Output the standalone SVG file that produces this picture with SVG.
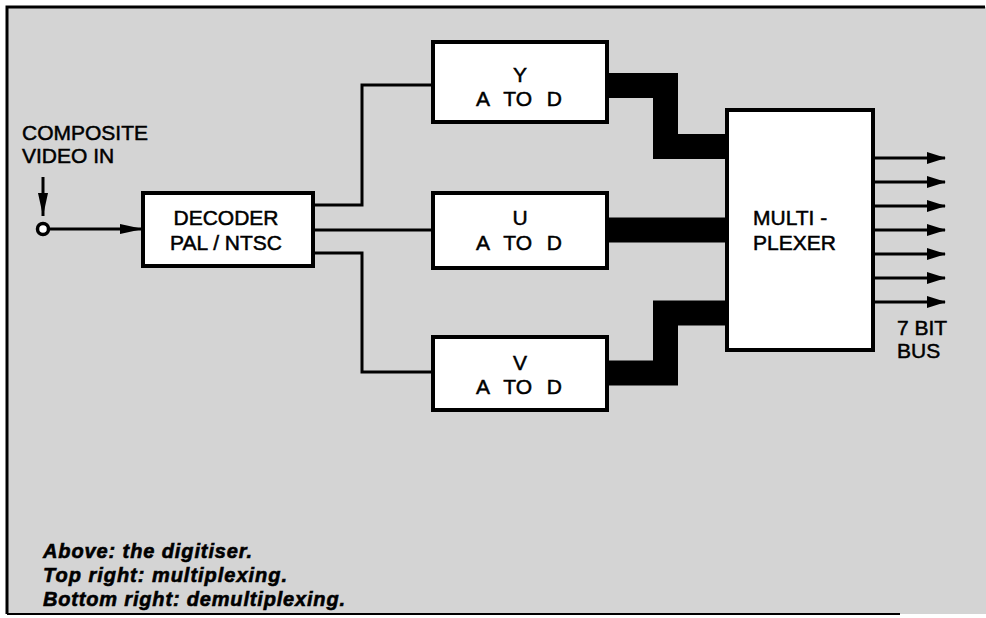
<svg xmlns="http://www.w3.org/2000/svg" width="986" height="618" viewBox="0 0 986 618">
<defs>
<style>
.lbl{font-family:"Liberation Sans",Arial,sans-serif;font-size:21px;fill:#000;stroke:#000;stroke-width:0.5px;text-anchor:middle}
.box{fill:#fff;stroke:#000;stroke-width:4}
.wire{fill:none;stroke:#000;stroke-width:3}
.bus{fill:none;stroke:#000;stroke-width:25;stroke-linejoin:miter}
.cap{font-family:"Liberation Sans",Arial,sans-serif;font-size:20px;font-weight:bold;font-style:italic;fill:#000;stroke:#000;stroke-width:0.6px}
</style>
<marker id="ah" markerWidth="20" markerHeight="14" refX="18" refY="7" orient="auto" markerUnits="userSpaceOnUse">
<path d="M0,1 L19,7 L0,13 Z" fill="#000"/>
</marker>
<marker id="ahl" markerWidth="24" markerHeight="12" refX="23" refY="6" orient="auto" markerUnits="userSpaceOnUse">
<path d="M0,1 L23,6 L0,11 Z" fill="#000"/>
</marker>
</defs>
<rect x="0" y="0" width="986" height="618" fill="#fff"/>
<rect x="7" y="7" width="979" height="607" fill="#d4d4d4"/>
<path d="M7,614 L7,7 L985,7" fill="none" stroke="#000" stroke-width="3"/>
<path d="M7,614 L900,614" fill="none" stroke="#000" stroke-width="2"/>

<g id="connectors">
<path class="wire" d="M43,177 L43,216" marker-end="url(#ahl)"/>
<circle cx="43" cy="229" r="5.5" fill="#fff" stroke="#000" stroke-width="3.5"/>
<path class="wire" d="M48,229 L143,229" marker-end="url(#ahl)"/>
<path class="wire" d="M313,205 L362,205 L362,85 L433,85"/>
<path class="wire" d="M313,230 L433,230"/>
<path class="wire" d="M313,253 L362,253 L362,372 L433,372"/>
<path class="bus" d="M607,85.5 L665.5,85.5 L665.5,146.5 L727,146.5"/>
<path class="bus" d="M607,230 L727,230"/>
<path class="bus" d="M607,373 L665.5,373 L665.5,313 L727,313"/>
<path class="wire" d="M873,158 L945,158" marker-end="url(#ah)"/>
<path class="wire" d="M873,182 L945,182" marker-end="url(#ah)"/>
<path class="wire" d="M873,206 L945,206" marker-end="url(#ah)"/>
<path class="wire" d="M873,230 L945,230" marker-end="url(#ah)"/>
<path class="wire" d="M873,254 L945,254" marker-end="url(#ah)"/>
<path class="wire" d="M873,278 L945,278" marker-end="url(#ah)"/>
<path class="wire" d="M873,302 L945,302" marker-end="url(#ah)"/>
</g>

<g id="input">
<text class="lbl" x="22" y="140" style="text-anchor:start">COMPOSITE</text>
<text class="lbl" x="22" y="163" style="text-anchor:start">VIDEO IN</text>
</g>

<g id="decoder">
<rect class="box" x="143" y="193" width="170" height="73"/>
<text class="lbl" x="226" y="225">DECODER</text>
<text class="lbl" x="226" y="250">PAL / NTSC</text>
</g>

<g id="y-atod">
<rect class="box" x="433" y="42" width="174" height="80"/>
<text class="lbl" x="520" y="82">Y</text>
<text class="lbl" x="519" y="106" style="word-spacing:9px">A TO D</text>
</g>

<g id="u-atod">
<rect class="box" x="433" y="193" width="174" height="75"/>
<text class="lbl" x="520" y="225">U</text>
<text class="lbl" x="519" y="250" style="word-spacing:9px">A TO D</text>
</g>

<g id="v-atod">
<rect class="box" x="433" y="337" width="174" height="73"/>
<text class="lbl" x="520" y="370">V</text>
<text class="lbl" x="519" y="394" style="word-spacing:9px">A TO D</text>
</g>

<g id="multiplexer">
<rect class="box" x="727" y="110" width="146" height="240"/>
<text class="lbl" x="753" y="225" style="text-anchor:start">MULTI -</text>
<text class="lbl" x="753" y="250" style="text-anchor:start">PLEXER</text>
</g>

<g id="bus-label">
<text class="lbl" x="897" y="335" style="text-anchor:start">7 BIT</text>
<text class="lbl" x="897" y="358" style="text-anchor:start">BUS</text>
</g>

<g id="caption">
<text class="cap" x="43" y="558" textLength="209" lengthAdjust="spacing">Above: the digitiser.</text>
<text class="cap" x="43" y="582" textLength="244" lengthAdjust="spacing">Top right: multiplexing.</text>
<text class="cap" x="43" y="606" textLength="302" lengthAdjust="spacing">Bottom right: demultiplexing.</text>
</g>
</svg>
